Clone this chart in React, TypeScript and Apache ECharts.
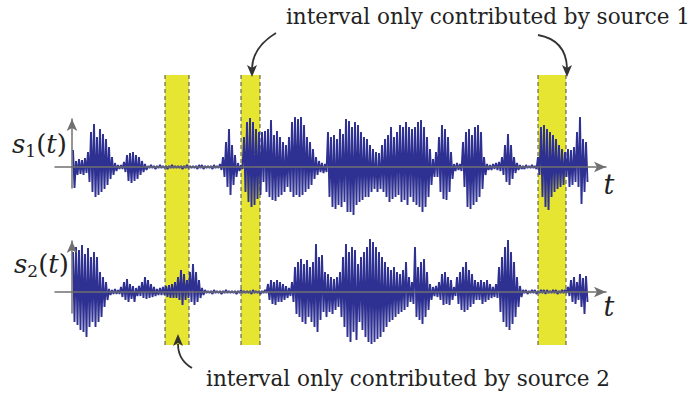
import React, { useEffect, useRef } from 'react';
import * as echarts from 'echarts';

// time base: one peak sample every 3 time units, first at t = 1; trough half a step later
const sampleStep = 3;
const firstSample = 1;

// source 1: upper / lower envelope of each sample (amplitude units)
const s1Upper = [
  17, 6, 8, 7, 9, 15, 35, 43, 30, 38, 33, 28, 20, 10, 4, 2, 2, 5, 12, 14, 15, 12, 10, 6, 3,
  1, 2, 1, 1, 2, 1, 1, 1, 2, 1, 1, 1, 1, 2, 1, 1, 1, 2, 2, 1, 1, 1, 2, 1,
  3, 10, 25, 38, 22, 12, 4, 2,
  30, 45, 49, 45, 38, 35,
  35, 36, 38, 47, 32, 36, 30, 25, 22,
  30, 45, 50, 48, 50, 42, 30, 25, 18, 10, 6, 4, 3,
  35, 30, 32, 28, 38, 33, 48, 46, 40, 45, 42, 35, 30, 28, 22, 18, 15, 14, 22, 28, 32, 40, 30, 35, 42, 40, 45, 40, 38,
  40, 45, 47, 40, 30, 18, 8,
  15, 30, 42, 38, 30, 15, 3, 4, 3,
  25, 35, 38, 32, 40, 42, 35, 10,
  3, 2, 3, 4, 5,
  10, 22, 33, 22, 10, 4,
  2, 1, 2, 1, 2, 1,
  10, 40, 42, 38, 35, 32, 28, 22, 18,
  15, 18, 17, 20, 35, 50, 28, 25,
];
const s1Lower = [
  21, 8, 7, 8, 6, 15, 25, 30, 28, 25, 22, 18, 12, 8, 4, 2, 2, 5, 14, 16, 14, 12, 8, 5, 3,
  1, 1, 2, 1, 1, 1, 2, 1, 1, 1, 1, 2, 1, 1, 1, 1, 2, 1, 2, 1, 1, 2, 1, 1,
  3, 10, 20, 28, 18, 10, 4, 2,
  25, 35, 40, 38, 32, 28,
  15, 25, 30, 33, 34, 30, 28, 25, 20,
  25, 30, 28, 30, 28, 25, 22, 18, 12, 8, 5, 6, 5,
  30, 40, 42, 38, 40, 35, 45, 45, 48, 38, 35, 33, 30, 30, 25, 22, 25, 22, 25, 30, 35, 32, 30, 28, 35, 33, 38, 30, 35,
  38, 40, 45, 40, 30, 18, 10,
  10, 25, 32, 33, 25, 12, 4, 3, 4,
  20, 40, 42, 38, 35, 30, 22, 8,
  3, 3, 2, 3, 4,
  8, 15, 18, 12, 6, 3,
  2, 2, 1, 1, 1, 2,
  8, 30, 40, 43, 30, 25, 22, 20, 18,
  10, 20, 18, 15, 20, 37, 25, 15,
];

// source 2: upper / lower envelope of each sample
const s2Upper = [
  40, 45, 42, 47, 38, 44, 35, 40, 35, 20, 15, 10,
  3, 2, 3, 2,
  5, 10, 13, 8, 6, 4,
  6, 10, 15, 12, 8, 5, 3, 4,
  5, 6, 7, 8, 10, 15, 22, 18, 12,
  20, 28, 20, 12, 4,
  2, 1, 1, 2, 1, 1, 1, 2, 1, 1, 1, 1, 2, 1, 1, 1, 2, 1, 1, 1, 2,
  8, 12, 10, 12, 10, 8, 6, 4,
  10, 25, 30, 33, 28, 32, 25, 30, 48, 35,
  37, 20, 18, 15, 13, 15, 20,
  35, 48, 40, 45, 42, 28, 35, 40, 45, 53, 50, 45, 40, 35,
  30, 25, 22, 25, 20, 18, 22, 30, 15, 10,
  45, 25, 30, 33, 20, 8,
  5, 6,
  10, 18, 20, 15, 12, 5,
  15, 20, 25, 30, 22, 18, 12,
  10, 12, 10, 12, 8, 5, 8,
  25, 35, 45, 52, 40, 30, 15, 6,
  2, 2, 1, 2, 2, 1, 2, 2, 2, 1, 2, 2, 1, 2, 2,
  5, 12, 15, 10, 18, 14, 16,
];
const s2Lower = [
  30, 33, 38, 40, 45, 35, 30, 35, 30, 25, 15, 8,
  3, 2, 2, 2,
  5, 8, 10, 7, 10, 4,
  4, 6, 7, 6, 5, 4, 3, 3,
  3, 5, 6, 6, 6, 8, 13, 8, 6,
  10, 13, 10, 6, 3,
  1, 1, 2, 1, 1, 2, 1, 1, 1, 1, 2, 1, 1, 1, 1, 2, 1, 1, 2, 1, 1,
  8, 12, 13, 10, 10, 8, 6, 4,
  10, 22, 25, 30, 32, 25, 30, 35, 40, 28,
  20, 25, 20, 22, 18, 15, 25,
  35, 45, 50, 40, 48, 30, 38, 45, 50, 52, 50, 47, 45, 40,
  35, 30, 28, 25, 22, 20, 18, 15, 10, 12,
  25, 28, 32, 25, 18, 8,
  4, 5,
  8, 13, 12, 13, 8, 4,
  12, 18, 20, 18, 15, 12, 8,
  8, 12, 10, 8, 6, 5, 6,
  20, 30, 35, 38, 32, 25, 15, 5,
  1, 2, 1, 1, 2, 1, 1, 2, 1, 1, 1, 2, 1, 1, 1,
  4, 10, 12, 8, 15, 22, 10,
];

// intervals contributed by only one source (time units)
const bandStart = [93, 169, 466];
const bandEnd = [117, 188, 494];

const topNote = 'interval only contributed by source 1';
const bottomNote = 'interval only contributed by source 2';

const BLUE = '#2e3192';
const YELLOW = '#e6e632';
const SERIF = 'DejaVu Serif';

// min/max waveform trace: each peak followed by its trough half a step later
function trace(up: number[], lo: number[]) {
  const pts: number[][] = [];
  up.forEach((u, i) => {
    const t = firstSample + i * sampleStep;
    pts.push([t, u]);
    pts.push([t + sampleStep / 2, -lo[i]]);
  });
  return pts;
}

function bandRender(params: any, api: any) {
  const a = api.coord([api.value(0), 1]);
  const b = api.coord([api.value(1), 0]);
  const lineStyle = { stroke: '#4a4a4a', lineWidth: 1, lineDash: [4, 3], fill: null };
  return {
    type: 'group',
    children: [
      { type: 'rect', shape: { x: a[0], y: a[1], width: b[0] - a[0], height: b[1] - a[1] - 3 }, style: { fill: YELLOW } },
      { type: 'line', shape: { x1: a[0], y1: a[1], x2: a[0], y2: b[1] }, style: lineStyle },
      { type: 'line', shape: { x1: b[0], y1: a[1], x2: b[0], y2: b[1] }, style: lineStyle },
    ],
  };
}

function waveSeries(up: number[], lo: number[], idx: number) {
  return {
    type: 'line',
    xAxisIndex: idx,
    yAxisIndex: idx,
    z: 2,
    clip: false,
    showSymbol: false,
    silent: true,
    data: trace(up, lo),
    lineStyle: { color: BLUE, width: 1.9, join: 'bevel' },
    itemStyle: { color: BLUE },
  };
}

const axisCommon = {
  type: 'value',
  axisTick: { show: false },
  axisLabel: { show: false },
  splitLine: { show: false },
  z: 5,
};

function axisLine() {
  return {
    show: true,
    onZero: true,
    symbol: ['none', 'arrow'],
    symbolSize: [8, 12],
    lineStyle: { color: '#707070', width: 1.5 },
  };
}

function arrowHead(x: number, y: number, dir: number) {
  return {
    type: 'polygon',
    shape: { points: [[x, y], [x - 5, y - 12 * dir], [x, y - 9 * dir], [x + 5, y - 12 * dir]] },
    style: { fill: '#333' },
  };
}

export default function App() {
  const ref = useRef<HTMLDivElement>(null);
  useEffect(() => {
    if (!ref.current) return;
    const chart = echarts.init(ref.current, null, { renderer: 'svg' });
    const labelRich = {
      i: { fontFamily: SERIF, fontStyle: 'italic', fontSize: 26, lineHeight: 30, fill: '#222' },
      n: { fontFamily: SERIF, fontSize: 26, lineHeight: 30, fill: '#222' },
      sub: { fontFamily: SERIF, fontSize: 17, lineHeight: 17, verticalAlign: 'bottom', fill: '#222' },
    };
    const textStyle = (text: string, align: string) => ({
      text, fontFamily: SERIF, fontSize: 21.5, fill: '#222', textAlign: align, textVerticalAlign: 'middle',
    });
    const tStyle = {
      text: 't', fontFamily: SERIF, fontStyle: 'italic', fontSize: 27, fill: '#222', textAlign: 'center', textVerticalAlign: 'middle',
    };
    chart.setOption({
      animation: false,
      backgroundColor: '#ffffff',
      grid: [
        { left: 55, top: 119, width: 551, height: 69 },
        { left: 55, top: 241, width: 551, height: 72 },
        { left: 55, top: 75, width: 551, height: 273 },
      ],
      xAxis: [
        { ...axisCommon, gridIndex: 0, min: -17, max: 534, axisLine: axisLine() },
        { ...axisCommon, gridIndex: 1, min: -17, max: 534, axisLine: axisLine() },
        { ...axisCommon, gridIndex: 2, min: -17, max: 534, show: false },
      ],
      yAxis: [
        { ...axisCommon, gridIndex: 0, min: -21, max: 48, axisLine: axisLine() },
        { ...axisCommon, gridIndex: 1, min: -21, max: 51, axisLine: axisLine() },
        { ...axisCommon, gridIndex: 2, min: 0, max: 1, show: false },
      ],
      series: [
        {
          type: 'custom',
          xAxisIndex: 2,
          yAxisIndex: 2,
          z: 1,
          renderItem: bandRender,
          data: bandStart.map((s, i) => [s, bandEnd[i]]),
          encode: { x: [0, 1] },
          silent: true,
        },
        waveSeries(s1Upper, s1Lower, 0),
        waveSeries(s2Upper, s2Lower, 1),
      ],
      graphic: [
        { type: 'text', x: 690, y: 16, z: 10, style: textStyle(topNote, 'right') },
        { type: 'text', x: 408, y: 378, z: 10, style: textStyle(bottomNote, 'center') },
        {
          type: 'text', x: 12, y: 144, z: 10,
          style: { text: '{i|s}{sub|1}{n|(}{i|t}{n|)}', rich: labelRich, textAlign: 'left', textVerticalAlign: 'middle' },
        },
        {
          type: 'text', x: 14, y: 264, z: 10,
          style: { text: '{i|s}{sub|2}{n|(}{i|t}{n|)}', rich: labelRich, textAlign: 'left', textVerticalAlign: 'middle' },
        },
        { type: 'text', x: 609, y: 184, z: 10, style: tStyle },
        { type: 'text', x: 609, y: 306, z: 10, style: tStyle },
        {
          type: 'bezierCurve', z: 10,
          shape: { x1: 276, y1: 33, cpx1: 253, cpy1: 47, x2: 252, y2: 68 },
          style: { stroke: '#333', lineWidth: 1.8, fill: null },
        },
        { ...arrowHead(252, 77, 1), z: 10 },
        {
          type: 'bezierCurve', z: 10,
          shape: { x1: 538, y1: 35, cpx1: 566, cpy1: 40, x2: 567, y2: 68 },
          style: { stroke: '#333', lineWidth: 1.8, fill: null },
        },
        { ...arrowHead(567, 77, 1), z: 10 },
        {
          type: 'bezierCurve', z: 10,
          shape: { x1: 192, y1: 368, cpx1: 178, cpy1: 360, x2: 178, y2: 344 },
          style: { stroke: '#333', lineWidth: 1.8, fill: null },
        },
        { ...arrowHead(178, 334, -1), z: 10 },
      ],
    });
    return () => chart.dispose();
  }, []);
  return (
    <div
      ref={ref}
      style={{ position: 'fixed', left: 0, top: 0, width: 694, height: 396, background: '#fff' }}
    />
  );
}
